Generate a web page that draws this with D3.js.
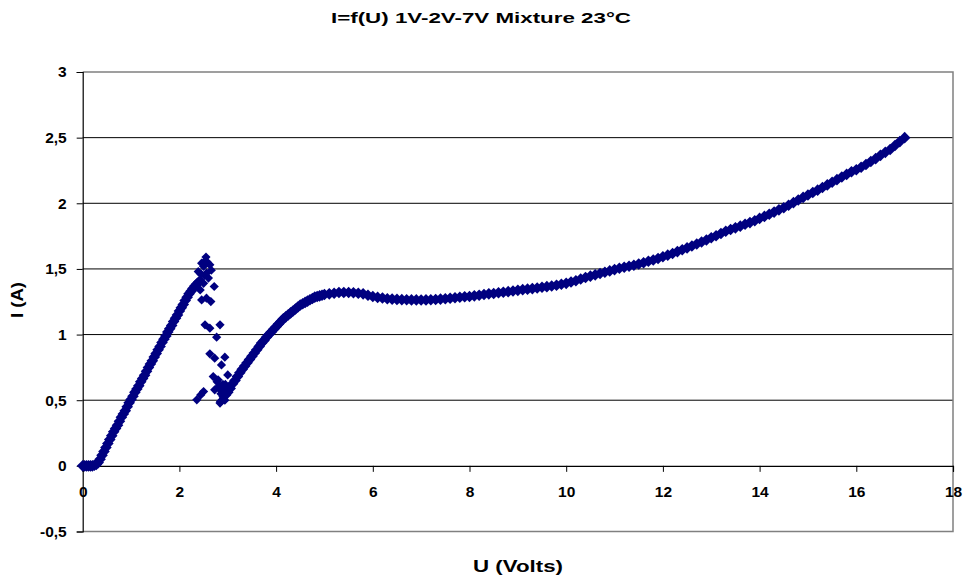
<!DOCTYPE html>
<html>
<head>
<meta charset="utf-8">
<script src="https://cdn.jsdelivr.net/npm/d3@7"></script>
<style>
body { margin: 0; background: #fff; }
text { font-family: Arial, "Liberation Sans", sans-serif; font-weight: bold; fill: #000; }
</style>
</head>
<body>
<script>
// U (V), I (A), one array per part of the curve
const riseData = [
  [0.00,0],[0.04,0],[0.08,0],[0.12,0],[0.16,0],[0.20,0],[0.24,0.005],[0.28,0.01],
  [0.32,0.025],[0.36,0.05],[0.40,0.08],[0.44,0.11],[0.48,0.14],[0.52,0.17],[0.56,0.20],
  [0.60,0.23],[0.64,0.26],[0.68,0.285],[0.72,0.31],[0.76,0.34],[0.80,0.37],[0.84,0.395],
  [0.88,0.42],[0.92,0.45],[0.96,0.48],[1.00,0.505],[1.04,0.53],[1.08,0.56],[1.12,0.585],
  [1.16,0.61],[1.20,0.64],[1.24,0.665],[1.28,0.69],[1.32,0.72],[1.36,0.75],[1.40,0.775],
  [1.44,0.80],[1.48,0.83],[1.52,0.855],[1.56,0.885],[1.60,0.91],[1.64,0.94],[1.68,0.965],
  [1.72,0.99],[1.76,1.02],[1.80,1.045],[1.84,1.07],[1.88,1.10],[1.92,1.125],[1.96,1.15],
  [2.00,1.18],[2.04,1.205],[2.08,1.23],[2.12,1.26],[2.16,1.285],[2.20,1.31],[2.24,1.33],
  [2.28,1.35],[2.32,1.37],[2.36,1.385],[2.40,1.40]
];
const scatterData = [
  [2.39,1.48],[2.43,1.417],[2.46,1.544],[2.50,1.39],[2.55,1.59],[2.53,1.56],[2.50,1.52],
  [2.56,1.468],[2.60,1.43],[2.63,1.531],[2.66,1.49],[2.45,1.46],[2.52,1.45],[2.58,1.55],
  [2.43,1.34],[2.46,1.264],[2.56,1.277],[2.65,1.251],[2.72,1.366],[2.53,1.074],[2.63,1.049],
  [2.84,1.074],[2.77,0.98],[2.63,0.853],[2.73,0.82],[2.94,0.828],[2.87,0.769],[2.70,0.68],
  [2.80,0.655],[3.00,0.693],[2.50,0.566],[2.36,0.503],[2.44,0.54],[2.73,0.579],[2.84,0.478],
  [2.91,0.516],[2.80,0.60],[2.86,0.55],[2.92,0.58],[2.95,0.62],[2.88,0.50],[2.98,0.54],
  [2.90,0.62],[2.78,0.64],[2.83,0.60],[2.87,0.57],[2.90,0.53],[2.85,0.49],[2.94,0.50],
  [2.97,0.57],[3.02,0.60]
];
const recoveryData = [
  [3.00,0.56],[3.05,0.59],[3.10,0.625],[3.15,0.65],[3.20,0.68],[3.25,0.71],[3.30,0.735],
  [3.35,0.76],[3.40,0.785],[3.45,0.81],[3.50,0.835],[3.55,0.86],[3.60,0.885],[3.65,0.91],
  [3.70,0.935],[3.75,0.955],[3.80,0.98],[3.85,1.0],[3.90,1.02],[3.95,1.04],[4.00,1.06],
  [4.05,1.08],[4.10,1.10],[4.15,1.12],[4.20,1.135],[4.25,1.15],[4.30,1.165],[4.35,1.18],
  [4.40,1.195],[4.45,1.21],[4.50,1.225],[4.55,1.235],[4.60,1.245],[4.65,1.255],[4.70,1.265],
  [4.75,1.275],[4.80,1.285],[4.85,1.29],[4.90,1.295],[4.95,1.30],[5.00,1.305]
];
const plateauData = [
  [5.1,1.31],[5.2,1.315],[5.3,1.32],[5.4,1.32],[5.5,1.32],[5.6,1.318],[5.7,1.315],[5.8,1.31],
  [5.9,1.30],[6.0,1.29],[6.1,1.283],[6.2,1.278],[6.3,1.273],[6.4,1.27],[6.5,1.268],[6.6,1.266],
  [6.7,1.265],[6.8,1.264],[6.9,1.264],[7.0,1.263],[7.1,1.264],[7.2,1.265],[7.3,1.267],[7.4,1.27],
  [7.5,1.273],[7.6,1.277],[7.7,1.28],[7.8,1.284],[7.9,1.288],[8.0,1.29],[8.1,1.295],[8.2,1.30],
  [8.3,1.305],[8.4,1.31],[8.5,1.313],[8.6,1.318],[8.7,1.322],[8.8,1.327],[8.9,1.332],[9.0,1.337],
  [9.1,1.342],[9.2,1.346],[9.3,1.35],[9.4,1.355],[9.5,1.36],[9.6,1.365],[9.7,1.37],[9.8,1.376],
  [9.9,1.383],[10.0,1.39]
];
const tailData = [
  [10.1,1.40],[10.2,1.41],[10.3,1.423],[10.4,1.435],[10.5,1.445],[10.6,1.455],[10.7,1.465],
  [10.8,1.475],[10.9,1.485],[11.0,1.495],[11.1,1.505],[11.2,1.513],[11.3,1.52],[11.4,1.528],
  [11.5,1.537],[11.6,1.547],[11.7,1.558],[11.8,1.568],[11.9,1.58],[12.0,1.593],[12.1,1.605],
  [12.2,1.618],[12.3,1.632],[12.4,1.646],[12.5,1.66],[12.6,1.675],[12.7,1.69],[12.8,1.705],
  [12.9,1.72],[13.0,1.737],[13.1,1.753],[13.2,1.77],[13.3,1.787],[13.4,1.80],[13.5,1.813],
  [13.6,1.826],[13.7,1.84],[13.8,1.853],[13.9,1.867],[14.0,1.885],[14.1,1.90],[14.2,1.917],
  [14.3,1.933],[14.4,1.95],[14.5,1.966],[14.6,1.985],[14.7,2.005],[14.8,2.025],[14.9,2.045],
  [15.0,2.063],[15.1,2.082],[15.2,2.10],[15.3,2.12],[15.4,2.14],[15.5,2.16],[15.6,2.18],
  [15.7,2.20],[15.8,2.22],[15.9,2.24],[16.0,2.255],[16.1,2.275],[16.2,2.295],[16.3,2.318],
  [16.4,2.34],[16.5,2.365],[16.6,2.388],[16.7,2.41],[16.8,2.44],[16.9,2.47],[17.0,2.50]
];

const xTicks = [0,2,4,6,8,10,12,14,16,18];
const yTicks = [-0.5,0,0.5,1,1.5,2,2.5,3];
const yTickLabels = ["-0,5","0","0,5","1","1,5","2","2,5","3"];

const width = 964, height = 580;
const plotLeft = 82.7, plotRight = 953, plotTop = 72, plotBottom = 531.5;
const font = "Arial, 'Liberation Sans', sans-serif";

const svg = d3.select("body").append("svg")
  .attr("width", width)
  .attr("height", height);

const x = d3.scaleLinear().domain([0,18]).range([plotLeft,plotRight]);
const y = d3.scaleLinear().domain([-0.5,3]).range([plotBottom,plotTop]);

// gridlines
svg.append("g")
  .selectAll("line")
  .data(yTicks.filter(d => d > 0 && d < 3))
  .join("line")
  .attr("x1", plotLeft).attr("x2", plotRight)
  .attr("y1", d => y(d)).attr("y2", d => y(d))
  .attr("stroke", "#000").attr("stroke-width", 1);

// plot border (top, right, bottom in grey)
svg.append("path")
  .attr("d", `M${plotLeft},${y(3)}H${plotRight}V${y(-0.5)}H${plotLeft}`)
  .attr("fill", "none")
  .attr("stroke", "#808080")
  .attr("stroke-width", 1.5);

// y axis
const yAxis = svg.append("g")
  .attr("transform", `translate(${plotLeft},0)`)
  .call(d3.axisLeft(y).tickValues(yTicks)
    .tickFormat((d,i) => yTickLabels[i])
    .tickSize(6).tickPadding(10));
yAxis.select(".domain").attr("stroke", "#000").attr("stroke-width", 1.2);
yAxis.selectAll("text").style("font-size", "15.5px").style("font-family", font).style("font-weight", "bold");

// x axis at I = 0
const xAxis = svg.append("g")
  .attr("transform", `translate(0,${y(0)})`)
  .call(d3.axisBottom(x).tickValues(xTicks).tickSize(6).tickPadding(14));
xAxis.select(".domain").attr("stroke", "#000").attr("stroke-width", 1.2);
xAxis.selectAll("text").style("font-size", "15.5px").style("font-family", font).style("font-weight", "bold");

// markers: dense curve drawn a bit larger so the band thickness matches
const curveData = riseData.concat(recoveryData, plateauData, tailData);
const diamond = h => `M0,${-h}L${h},0L0,${h}L${-h},0Z`;
const marks = svg.append("g");
marks.selectAll("path.curve")
  .data(curveData)
  .join("path")
  .attr("class", "curve")
  .attr("transform", d => `translate(${x(d[0])},${y(d[1])})`)
  .attr("d", diamond(5.8))
  .attr("fill", "#000080");
marks.selectAll("path.scatter")
  .data(scatterData)
  .join("path")
  .attr("class", "scatter")
  .attr("transform", d => `translate(${x(d[0])},${y(d[1])})`)
  .attr("d", diamond(4.6))
  .attr("fill", "#000080");

// titles
svg.append("text")
  .attr("x", 331).attr("y", 23)
  .attr("textLength", 300).attr("lengthAdjust", "spacingAndGlyphs")
  .style("font-size", "14px")
  .text("I=f(U) 1V-2V-7V Mixture 23°C");

svg.append("text")
  .attr("x", 473).attr("y", 572)
  .attr("textLength", 90).attr("lengthAdjust", "spacingAndGlyphs")
  .style("font-size", "17px")
  .text("U (Volts)");

svg.append("text")
  .attr("transform", "translate(23,318) rotate(-90)")
  .attr("textLength", 36).attr("lengthAdjust", "spacingAndGlyphs")
  .style("font-size", "17px")
  .text("I (A)");
</script>
</body>
</html>
